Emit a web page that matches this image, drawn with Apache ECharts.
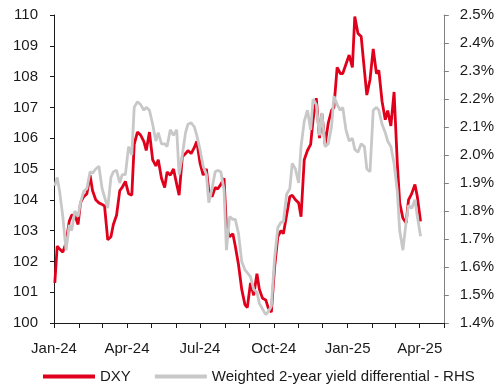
<!DOCTYPE html>
<html>
<head>
<meta charset="utf-8">
<script src="https://cdn.jsdelivr.net/npm/echarts@6/dist/echarts.min.js"></script>
<style>html,body{margin:0;padding:0;background:#fff}#c{width:497px;height:387px}</style>
</head>
<body>
<div id="c"></div>
<script>
const dates = ['2024-01-02','2024-01-05','2024-01-08','2024-01-12','2024-01-16','2024-01-20','2024-01-23','2024-01-27','2024-01-31',
'2024-02-03','2024-02-07','2024-02-11','2024-02-15','2024-02-18','2024-02-22','2024-02-26',
'2024-03-01','2024-03-04','2024-03-08','2024-03-12','2024-03-15','2024-03-19','2024-03-23','2024-03-26','2024-03-30',
'2024-04-03','2024-04-07','2024-04-10','2024-04-14','2024-04-18','2024-04-22','2024-04-25','2024-04-29',
'2024-05-03','2024-05-07','2024-05-10','2024-05-14','2024-05-18','2024-05-21','2024-05-25','2024-05-29',
'2024-06-02','2024-06-05','2024-06-09','2024-06-13','2024-06-16','2024-06-20','2024-06-24','2024-06-27',
'2024-07-01','2024-07-05','2024-07-09','2024-07-12','2024-07-16','2024-07-20','2024-07-23','2024-07-27','2024-07-31',
'2024-08-03','2024-08-07','2024-08-11','2024-08-14','2024-08-18','2024-08-22','2024-08-26','2024-08-29',
'2024-09-02','2024-09-06','2024-09-10','2024-09-13','2024-09-17','2024-09-21','2024-09-24','2024-09-28',
'2024-10-02','2024-10-06','2024-10-10','2024-10-13','2024-10-17','2024-10-21','2024-10-24','2024-10-28',
'2024-11-01','2024-11-04','2024-11-08','2024-11-12','2024-11-16','2024-11-19','2024-11-23','2024-11-27','2024-11-30',
'2024-12-04','2024-12-08','2024-12-12','2024-12-15','2024-12-19','2024-12-23','2024-12-26','2024-12-30',
'2025-01-03','2025-01-07','2025-01-10','2025-01-14','2025-01-18','2025-01-22','2025-01-25','2025-01-29',
'2025-02-02','2025-02-06','2025-02-09','2025-02-13','2025-02-17','2025-02-20','2025-02-24','2025-02-28',
'2025-03-04','2025-03-07','2025-03-11','2025-03-15','2025-03-18','2025-03-22','2025-03-26','2025-03-29',
'2025-04-02'];

const dxy = [101.3,102.5,102.4,102.3,102.6,103.3,103.5,103.5,103.2,
103.9,104.1,104.2,104.8,104.3,104.0,103.9,
103.85,103.8,102.7,102.8,103.2,103.5,104.3,104.4,104.6,
104.2,104.15,105.8,106.2,106.1,105.9,105.6,106.2,
105.3,105.1,105.3,104.7,104.4,104.9,104.8,105.0,
104.5,104.15,105.4,105.5,105.6,105.5,105.7,105.9,
105.2,104.8,105.0,104.3,104.1,104.4,104.35,104.5,104.7,
103.1,102.8,102.9,102.5,101.9,101.1,100.6,100.5,
101.3,100.9,101.6,101.1,100.8,100.75,100.5,100.35,
101.8,102.8,103.0,102.9,103.5,104.1,104.15,104.0,
103.9,103.45,105.3,105.6,105.8,106.6,107.3,106.0,106.8,
105.8,106.5,106.9,107.0,108.3,108.1,108.1,108.4,
108.7,108.3,109.95,109.4,109.3,108.2,107.4,107.9,
108.9,108.1,108.2,107.2,106.6,106.9,106.4,107.5,
105.2,103.9,103.4,103.25,104.0,104.2,104.5,104.1,
103.3];

const yieldDiff = [1.89,1.92,1.87,1.78,1.66,1.75,1.73,1.80,1.78,
1.83,1.87,1.88,1.94,1.935,1.95,1.96,
1.88,1.85,1.81,1.92,1.94,1.945,1.90,1.93,1.93,
2.03,2.00,2.17,2.19,2.18,2.16,2.17,2.16,
2.11,2.05,2.08,2.04,2.04,2.03,2.09,2.07,
2.09,1.93,2.00,2.08,2.11,2.115,2.10,2.07,
2.02,1.96,1.93,1.83,1.88,1.94,1.945,1.94,1.875,
1.66,1.78,1.77,1.77,1.72,1.62,1.59,1.58,
1.565,1.52,1.51,1.47,1.45,1.43,1.44,1.46,
1.63,1.74,1.76,1.76,1.86,1.88,1.97,1.95,
1.90,2.03,2.12,2.16,2.09,2.20,2.18,2.07,2.15,
2.03,2.04,2.10,2.21,2.18,2.16,2.17,2.09,
2.05,2.06,2.02,2.01,2.04,2.03,1.95,1.94,
2.16,2.17,2.16,2.11,2.08,2.05,2.03,1.97,
1.87,1.73,1.66,1.76,1.82,1.81,1.84,1.78,
1.71];

const monthNames = ['Jan','Feb','Mar','Apr','May','Jun','Jul','Aug','Sep','Oct','Nov','Dec'];
const xLabelMonths = ['2024-01','2024-04','2024-07','2024-10','2025-01','2025-04'];
const seriesNames = ['DXY','Weighted 2-year yield differential - RHS'];

function ts(s){ const p = s.split('-').map(Number); return Date.UTC(p[0], p[1]-1, p[2]||1); }
const tickVals = [];
for (let y = 2024, m = 0; y < 2025 || (y === 2025 && m <= 4); ) {
  tickVals.push(Date.UTC(y, m, 1));
  m++; if (m > 11) { m = 0; y++; }
}
const labelVals = xLabelMonths.map(s => ts(s + '-01'));

const font = '"Liberation Sans", Arial, sans-serif';
const chart = echarts.init(document.getElementById('c'), null, {renderer: 'canvas'});
chart.setOption({
  animation: false,
  backgroundColor: '#ffffff',
  grid: {left: 54, right: 51, top: 15, bottom: 64, containLabel: false},
  legend: {
    left: 43, top: 369, padding: 0,
    itemWidth: 52, itemHeight: 4, itemGap: 24,
    icon: 'rect',
    textStyle: {fontFamily: font, fontSize: 15, color: '#1a1a1a'},
    data: seriesNames
  },
  xAxis: {
    type: 'value',
    min: ts('2024-01-01'), max: ts('2025-05-01'),
    splitLine: {show: false},
    axisLine: {show: true, lineStyle: {color: '#1a1a1a', width: 1}},
    axisTick: {show: true, length: 5, lineStyle: {color: '#1a1a1a'}, customValues: tickVals},
    axisLabel: {
      customValues: labelVals,
      margin: 18,
      fontFamily: font, fontSize: 15, color: '#1a1a1a',
      showMinLabel: true, showMaxLabel: true,
      formatter: function (v) { const d = new Date(v); return monthNames[d.getUTCMonth()] + '-' + String(d.getUTCFullYear()).slice(2); }
    }
  },
  yAxis: [
    {
      type: 'value', min: 100, max: 110, interval: 1, position: 'left',
      splitLine: {show: false},
      axisLine: {show: true, lineStyle: {color: '#1a1a1a'}},
      axisTick: {show: true, length: 4, lineStyle: {color: '#1a1a1a'}},
      axisLabel: {fontFamily: font, fontSize: 15, color: '#1a1a1a', margin: 16}
    },
    {
      type: 'value', min: 1.4, max: 2.5, interval: 0.1, position: 'right',
      splitLine: {show: false},
      axisLine: {show: true, lineStyle: {color: '#808080'}},
      axisTick: {show: true, length: 5, lineStyle: {color: '#808080'}},
      axisLabel: {fontFamily: font, fontSize: 15, color: '#1a1a1a', margin: 16,
        formatter: function (v) { return v.toFixed(1) + '%'; }}
    }
  ],
  series: [
    {
      name: seriesNames[0], type: 'line', yAxisIndex: 0, showSymbol: false,
      color: '#e0001b', lineStyle: {width: 2.8, color: '#e0001b'},
      data: dates.map((d, i) => [ts(d), dxy[i]])
    },
    {
      name: seriesNames[1], type: 'line', yAxisIndex: 1, showSymbol: false,
      color: '#c8c8c8', lineStyle: {width: 2.8, color: '#c8c8c8'},
      data: dates.map((d, i) => [ts(d), yieldDiff[i]])
    }
  ]
});
</script>
</body>
</html>
